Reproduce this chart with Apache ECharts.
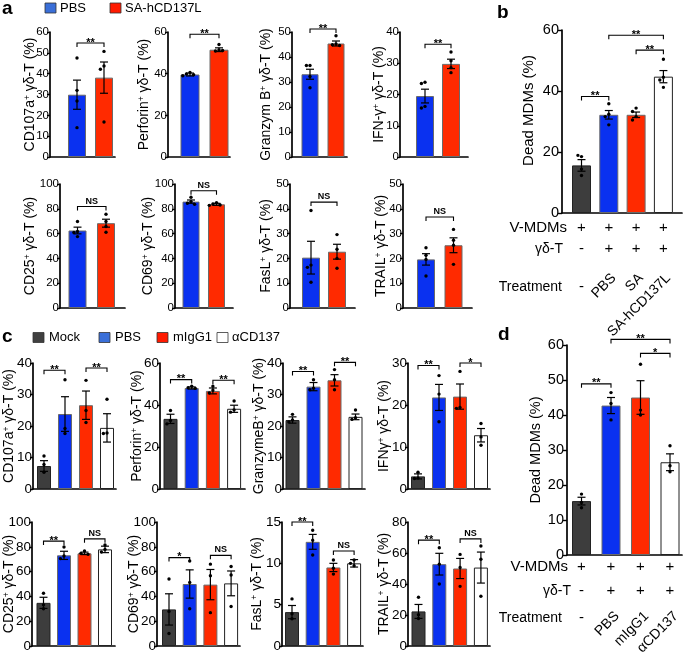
<!DOCTYPE html>
<html><head><meta charset="utf-8">
<script src="https://cdn.jsdelivr.net/npm/echarts@6/dist/echarts.min.js"></script>
<style>html,body{margin:0;padding:0;background:#fff}#c{width:685px;height:653px}</style>
</head><body><div id="c"></div><script>
// ---------- DATA ----------
const groupsA = ['PBS', 'SA-hCD137L'];
const groupsC = ['Mock', 'PBS', 'mIgG1', 'αCD137'];
const bTreatment = ['-', 'PBS', 'SA', 'SA-hCD137L'];
const bMDMs = ['+', '+', '+', '+'];
const bGD = ['-', '+', '+', '+'];
const dTreatment = ['-', 'PBS', 'mIgG1', 'αCD137'];
const dMDMs = ['+', '+', '+', '+'];
const dGD = ['-', '+', '+', '+'];

// panel a (mean, sem, individual points, significance [i, j, y, label])
const aCD107aMean = [29.9, 38.1];
const aCD107aSem = [7.0, 7.5];
const aCD107aPts = [[47.5, 32.0, 26.9, 14.1], [50.7, 43.7, 42.1, 16.8]];
const aCD107aSig = [[0, 1, 54.7, '**']];

const aPerforinMean = [39.6, 51.5];
const aPerforinSem = [0.7, 0.9];
const aPerforinPts = [[40.6, 39.9, 39.5, 39.0], [54.0, 51.4, 50.9, 51.1]];
const aPerforinSig = [[0, 1, 58.9, '**']];

const aGranzymMean = [33.1, 45.4];
const aGranzymSem = [2.0, 1.0];
const aGranzymPts = [[36.6, 36.6, 32.2, 27.7], [48.5, 45.2, 44.9, 44.6]];
const aGranzymSig = [[0, 1, 51.2, '**']];

const aIFNgMean = [19.5, 29.8];
const aIFNgSem = [2.2, 1.5];
const aIFNgPts = [[23.9, 23.5, 16.2, 15.7], [33.6, 30.8, 28.6, 27.0]];
const aIFNgSig = [[0, 1, 36.1, '**']];

const aCD25Mean = [62.5, 68.4];
const aCD25Sem = [2.7, 3.2];
const aCD25Pts = [[69.7, 61.7, 60.9, 57.6], [75.6, 69.7, 65.7, 61.1]];
const aCD25Sig = [[0, 1, 81.8, 'NS']];

const aCD69Mean = [85.8, 83.6];
const aCD69Sem = [1.3, 0.8];
const aCD69Pts = [[89.3, 85.8, 84.5, 83.6], [85.0, 83.9, 83.1, 82.8]];
const aCD69Sig = [[0, 1, 94.6, 'NS']];

const aFasLMean = [20.3, 22.7];
const aFasLSem = [6.6, 3.0];
const aFasLPts = [[39.3, 17.3, 16.4, 10.4], [29.6, 23.7, 20.0, 16.0]];
const aFasLSig = [[0, 1, 42.7, 'NS']];

const aTRAILMean = [19.6, 25.3];
const aTRAILSem = [2.3, 3.0];
const aTRAILPts = [[24.3, 21.3, 19.6, 12.9], [31.7, 27.3, 25.3, 17.6]];
const aTRAILSig = [[0, 1, 36.7, 'NS']];

// panel b
const bMean = [15.6, 32.2, 32.2, 44.7];
const bSem = [1.9, 1.4, 0.9, 2.0];
const bPts = [[18.5, 18.9, 14.4, 12.3], [35.8, 32.4, 31.6, 28.9], [34.4, 33.3, 31.6, 30.5], [50.4, 44.5, 43.6, 41.2]];
const bSig = [[0, 1, 38.2, '**'], [2, 3, 53.4, '**'], [1, 3, 58.3, '**']];

// panel c
const cCD107aMean = [7.3, 23.8, 26.6, 19.4];
const cCD107aSem = [1.7, 5.5, 4.5, 4.5];
const cCD107aPts = [[10.5, 7.8, 5.3], [34.7, 19.2, 17.6], [34.5, 24.9, 21.1], [28.5, 17.8, 17.6]];
const cCD107aSig = [[0, 1, 37.7, '**'], [2, 3, 38.4, '**']];

const cPerforinMean = [33.4, 48.1, 46.7, 38.2];
const cPerforinSem = [2.2, 0.5, 1.4, 1.7];
const cPerforinPts = [[37.4, 32.6, 31.0], [48.9, 48.2, 47.9], [48.9, 47.0, 45.7], [41.9, 37.7, 36.6]];
const cPerforinSig = [[0, 1, 52.1, '**'], [2, 3, 51.8, '**']];

const cGranzymeBMean = [21.9, 32.5, 34.5, 22.9];
const cGranzymeBSem = [1.0, 1.3, 1.8, 0.9];
const cGranzymeBPts = [[23.7, 21.9, 21.3], [34.7, 32.0, 31.5], [37.9, 34.7, 31.5], [25.1, 22.6, 22.1]];
const cGranzymeBSig = [[0, 1, 37.3, '**'], [2, 3, 40.2, '**']];

const cIFNgMean = [3.0, 21.8, 22.0, 12.8];
const cIFNgSem = [0.6, 3.1, 3.0, 1.6];
const cIFNgPts = [[4.0, 2.6, 2.5], [27.0, 22.6, 16.0], [28.0, 19.4, 19.2], [15.6, 12.4, 10.4]];
const cIFNgSig = [[0, 1, 29.4, '**'], [2, 3, 30.0, '*']];

const cCD25Mean = [34.8, 73.1, 74.7, 77.9];
const cCD25Sem = [4.5, 3.3, 1.0, 2.6];
const cCD25Pts = [[42.6, 33.2, 30.0], [79.8, 72.6, 70.5], [76.6, 74.7, 73.9], [81.4, 77.9, 75.8]];
const cCD25Sig = [[0, 1, 84.6, '**'], [2, 3, 86.4, 'NS']];

const cCD69Mean = [29.5, 50.0, 49.5, 50.5];
const cCD69Sem = [12.6, 11.4, 12.2, 10.0];
const cCD69Pts = [[54.0, 27.9, 10.1], [68.6, 51.3, 30.0], [66.0, 56.6, 26.9], [64.1, 57.2, 31.9]];
const cCD69Sig = [[0, 1, 71.3, '*'], [2, 3, 73.1, 'NS']];

const cFasLMean = [4.1, 12.6, 9.5, 10.0];
const cFasLSem = [0.8, 0.9, 0.5, 0.45];
const cFasLPts = [[5.7, 3.9, 3.3], [14.0, 12.8, 11.0], [10.4, 9.4, 8.7], [10.4, 10.0, 9.7]];
const cFasLSig = [[0, 1, 15.0, '**'], [2, 3, 11.5, 'NS']];

const cTRAILMean = [22.3, 52.8, 50.0, 50.6];
const cTRAILSem = [4.5, 7.0, 6.5, 10.0];
const cTRAILPts = [[31.5, 20.2, 17.7], [63.4, 52.8, 40.0], [59.1, 50.6, 38.5], [64.5, 56.0, 32.1]];
const cTRAILSig = [[0, 1, 68.3, '**'], [2, 3, 69.1, 'NS']];

// panel d
const dMean = [15.4, 42.7, 45.0, 26.5];
const dSem = [1.1, 2.3, 4.8, 2.4];
const dPts = [[17.4, 15.0, 13.5], [46.4, 43.3, 38.6], [54.5, 41.4, 40.0], [31.2, 25.5, 23.8]];
const dSig = [[0, 1, 48.9, '**'], [2, 3, 57.6, '*'], [1, 3, 61.6, '**']];

// ---------- STYLE / LAYOUT ----------
const FONT = "'Liberation Sans', Arial, Helvetica, sans-serif";
const BLUE = '#0a31f0', RED = '#ff2a00', DARK = '#3d3d3d', WHITE = '#ffffff';
const colorsA = [BLUE, RED], bordersA = ['#6a6a6a', '#6a6a6a'];
const colorsC = [DARK, BLUE, RED, WHITE], bordersC = ['#222', '#6a6a6a', '#6a6a6a', '#222'];

const option = {
  animation: false,
  backgroundColor: '#fff',
  textStyle: { fontFamily: FONT },
  grid: [], xAxis: [], yAxis: [], series: [], graphic: []
};

function errRender(pts) {
  return function (params, api) {
    const i = api.value(0), m = api.value(1), e = api.value(2);
    const top = api.coord([i, m + e]), bot = api.coord([i, m - e]);
    const x = top[0];
    const ls = { stroke: '#000', lineWidth: 1.2 };
    const ch = [
      { type: 'line', shape: { x1: x, y1: top[1], x2: x, y2: bot[1] }, style: ls },
      { type: 'line', shape: { x1: x - 4, y1: top[1], x2: x + 4, y2: top[1] }, style: ls },
      { type: 'line', shape: { x1: x - 4, y1: bot[1], x2: x + 4, y2: bot[1] }, style: ls }
    ];
    const placed = [];
    pts[params.dataIndex].forEach(function (v) {
      const y = api.coord([i, v])[1];
      const cands = [0, -3.6, 3.6, -7.2, 7.2, -10.8, 10.8];
      let dx = 0;
      for (const c of cands) {
        if (placed.every(p => Math.hypot(p[0] - c, p[1] - y) >= 3.4)) { dx = c; break; }
      }
      placed.push([dx, y]);
      ch.push({ type: 'circle', shape: { cx: x + dx, cy: y, r: 1.7 }, style: { fill: '#000' } });
    });
    return { type: 'group', children: ch };
  };
}

function sigRender(sig) {
  return function (params, api) {
    const s = sig[params.dataIndex];
    const p1 = api.coord([s[0], s[2]]), p2 = api.coord([s[1], s[2]]);
    const y = p1[1];
    const ns = s[3] === 'NS';
    return { type: 'group', children: [
      { type: 'polyline', shape: { points: [[p1[0], y + 4], [p1[0], y], [p2[0], y], [p2[0], y + 4]] },
        style: { stroke: '#000', lineWidth: 1.1, fill: null } },
      { type: 'text', x: (p1[0] + p2[0]) / 2, y: ns ? y - 1 : y + 5,
        style: { text: s[3], align: 'center', verticalAlign: 'bottom', fontFamily: FONT,
                 fontWeight: 'bold', fontSize: ns ? 9 : 11, fill: '#000' } }
    ] };
  };
}

function rowsRender(rows, treat, g) {
  return function (params, api) {
    const i = params.dataIndex;
    const p = api.coord([i, 0]);
    const x = p[0], y0 = p[1];
    const ch = [];
    rows.forEach(function (r, j) {
      ch.push({ type: 'text', x: x, y: y0 + g.rows[j],
        style: { text: r[i], align: 'center', verticalAlign: 'middle', fontFamily: FONT, fontSize: 15, fill: '#000' } });
    });
    if (treat[i] === '-') {
      ch.push({ type: 'text', x: x, y: y0 + g.dash,
        style: { text: '-', align: 'center', verticalAlign: 'middle', fontFamily: FONT, fontSize: 15, fill: '#000' } });
    } else {
      ch.push({ type: 'text', x: x + g.rx, y: y0 + g.ry, rotation: Math.PI / 4,
        style: { text: treat[i], align: 'right', verticalAlign: 'middle', fontFamily: FONT, fontSize: 14, fill: '#000' } });
    }
    return { type: 'group', children: ch };
  };
}

function addChart(c) {
  const k = option.grid.length, L = c.L;
  option.grid.push({ left: L.ax, top: L.top, width: L.end - L.ax, height: L.bot - L.top });
  option.xAxis.push({ gridIndex: k, type: 'value', min: (L.ax - L.c0) / L.step, max: (L.end - L.c0) / L.step,
    axisLine: { show: true, onZero: false, lineStyle: { color: '#000', width: 1.7 } },
    axisTick: { show: false }, axisLabel: { show: false }, splitLine: { show: false } });
  option.yAxis.push({ gridIndex: k, type: 'value', min: 0, max: c.max, interval: c.interval,
    axisLine: { show: true, onZero: false, lineStyle: { color: '#000', width: 1.7 } },
    axisTick: { show: true, length: c.tl, lineStyle: { color: '#000', width: 1.4 } },
    axisLabel: { fontSize: c.fs, color: '#000', margin: c.lm, fontFamily: FONT },
    splitLine: { show: false },
    name: c.name, nameLocation: 'middle', nameGap: c.ng, nameMoveOverlap: false,
    nameTextStyle: { fontSize: c.tfs, color: '#000', fontFamily: FONT, padding: c.tpad || 0,
      rich: { s: { fontSize: 8.5, verticalAlign: 'top', color: '#000', fontFamily: FONT } } } });
  option.series.push({ type: 'bar', xAxisIndex: k, yAxisIndex: k, barWidth: L.bw, silent: true,
    data: c.mean.map((v, i) => ({ value: [i, v], itemStyle: { color: c.colors[i], borderColor: c.borders[i], borderWidth: 1 } })) });
  option.series.push({ type: 'custom', xAxisIndex: k, yAxisIndex: k, clip: false, z: 5, silent: true,
    data: c.mean.map((v, i) => [i, v, c.sem[i]]), renderItem: errRender(c.pts) });
  option.series.push({ type: 'custom', xAxisIndex: k, yAxisIndex: k, clip: false, z: 5, silent: true,
    data: c.sig.map(s => [s[0], s[2]]), renderItem: sigRender(c.sig) });
  if (c.rows) {
    option.series.push({ type: 'custom', xAxisIndex: k, yAxisIndex: k, clip: false, z: 5, silent: true,
      data: c.rows.treat.map((t, i) => [i, 0]), renderItem: rowsRender(c.rows.lines, c.rows.treat, c.rows.g) });
  }
}

const A = { colors: colorsA, borders: bordersA, fs: 11.5, tfs: 14, tl: 3, lm: 1 };
const C = { colors: colorsC, borders: bordersC, fs: 13.5, tfs: 14, tl: 3, lm: 1 };

addChart(Object.assign({}, A, { name: 'CD107a{s|+} γδ-T (%)', max: 60, interval: 10, ng: 13,
  mean: aCD107aMean, sem: aCD107aSem, pts: aCD107aPts, sig: aCD107aSig,
  L: { ax: 50, end: 115, top: 32, bot: 157, c0: 77, step: 27, bw: 18 } }));
addChart(Object.assign({}, A, { name: 'Perforin{s|+} γδ-T (%)', max: 60, interval: 20, ng: 17,
  mean: aPerforinMean, sem: aPerforinSem, pts: aPerforinPts, sig: aPerforinSig,
  L: { ax: 168, end: 230, top: 32, bot: 157, c0: 190, step: 29, bw: 19 } }));
addChart(Object.assign({}, A, { name: 'Granzym B{s|+} γδ-T (%)', max: 50, interval: 10, ng: 18.5,
  mean: aGranzymMean, sem: aGranzymSem, pts: aGranzymPts, sig: aGranzymSig,
  L: { ax: 292, end: 347, top: 32, bot: 157, c0: 310, step: 26, bw: 17 } }));
addChart(Object.assign({}, A, { name: 'IFN-γ{s|+} γδ-T (%)', max: 40, interval: 10, ng: 13.5,
  mean: aIFNgMean, sem: aIFNgSem, pts: aIFNgPts, sig: aIFNgSig,
  L: { ax: 400, end: 468, top: 32, bot: 157, c0: 425, step: 26, bw: 18 } }));
addChart(Object.assign({}, A, { name: 'CD25{s|+} γδ-T (%)', max: 100, interval: 20, ng: 22.5,
  mean: aCD25Mean, sem: aCD25Sem, pts: aCD25Pts, sig: aCD25Sig,
  L: { ax: 60, end: 125, top: 184, bot: 308, c0: 77.5, step: 28.5, bw: 18 } }));
addChart(Object.assign({}, A, { name: 'CD69{s|+} γδ-T (%)', max: 100, interval: 20, ng: 20,
  mean: aCD69Mean, sem: aCD69Sem, pts: aCD69Pts, sig: aCD69Sig,
  L: { ax: 175, end: 233, top: 184, bot: 308, c0: 191, step: 25.5, bw: 17 } }));
addChart(Object.assign({}, A, { name: 'FasL{s|+} γδ-T (%)', max: 50, interval: 10, ng: 17,
  mean: aFasLMean, sem: aFasLSem, pts: aFasLPts, sig: aFasLSig,
  L: { ax: 290, end: 355, top: 184, bot: 308, c0: 311, step: 26, bw: 18 } }));
addChart(Object.assign({}, A, { name: 'TRAIL{s|+} γδ-T (%)', max: 50, interval: 10, ng: 14.5,
  mean: aTRAILMean, sem: aTRAILSem, pts: aTRAILPts, sig: aTRAILSig,
  L: { ax: 403, end: 472, top: 184, bot: 308, c0: 426, step: 27.5, bw: 18 } }));

addChart(Object.assign({}, C, { name: 'CD107a{s|+} γδ-T (%)', max: 40, interval: 10, ng: 17,
  mean: cCD107aMean, sem: cCD107aSem, pts: cCD107aPts, sig: cCD107aSig,
  L: { ax: 33, end: 116, top: 363, bot: 489, c0: 44, step: 21, bw: 14 } }));
addChart(Object.assign({}, C, { name: 'Perforin{s|+} γδ-T (%)', max: 60, interval: 20, ng: 16,
  mean: cPerforinMean, sem: cPerforinSem, pts: cPerforinPts, sig: cPerforinSig,
  L: { ax: 160, end: 245, top: 363, bot: 489, c0: 170.5, step: 21.2, bw: 14 } }));
addChart(Object.assign({}, C, { name: 'GranzymeB{s|+} γδ-T (%)', max: 40, interval: 10, ng: 17,
  mean: cGranzymeBMean, sem: cGranzymeBSem, pts: cGranzymeBPts, sig: cGranzymeBSig,
  L: { ax: 283, end: 365, top: 363, bot: 489, c0: 292.5, step: 21, bw: 14 } }));
addChart(Object.assign({}, C, { name: 'IFNγ{s|+} γδ-T (%)', max: 30, interval: 10, ng: 17,
  mean: cIFNgMean, sem: cIFNgSem, pts: cIFNgPts, sig: cIFNgSig,
  L: { ax: 408, end: 490, top: 363, bot: 489, c0: 418, step: 21, bw: 14 } }));
addChart(Object.assign({}, C, { name: 'CD25{s|+} γδ-T (%)', max: 100, interval: 20, ng: 16,
  mean: cCD25Mean, sem: cCD25Sem, pts: cCD25Pts, sig: cCD25Sig,
  L: { ax: 32, end: 115, top: 522, bot: 648, c0: 43.5, step: 20.5, bw: 14 } }));
addChart(Object.assign({}, C, { name: 'CD69{s|+} γδ-T (%)', max: 100, interval: 20, ng: 16,
  mean: cCD69Mean, sem: cCD69Sem, pts: cCD69Pts, sig: cCD69Sig,
  L: { ax: 157, end: 240, top: 522, bot: 648, c0: 169, step: 20.7, bw: 14 } }));
addChart(Object.assign({}, C, { name: 'FasL{s|+} γδ-T (%)', max: 15, interval: 5, ng: 18,
  mean: cFasLMean, sem: cFasLSem, pts: cFasLPts, sig: cFasLSig,
  L: { ax: 282, end: 363, top: 522, bot: 648, c0: 292, step: 20.7, bw: 14 } }));
addChart(Object.assign({}, C, { name: 'TRAIL{s|+} γδ-T (%)', max: 80, interval: 20, ng: 17,
  mean: cTRAILMean, sem: cTRAILSem, pts: cTRAILPts, sig: cTRAILSig,
  L: { ax: 408, end: 490, top: 522, bot: 648, c0: 418.5, step: 20.8, bw: 14 } }));

addChart(Object.assign({}, C, { name: 'Dead MDMs (%)', max: 60, interval: 20, ng: 26, fs: 14.5, tfs: 15, tl: 4, lm: 3,
  tpad: [0, 0, 0, 22],
  mean: bMean, sem: bSem, pts: bPts, sig: bSig,
  rows: { lines: [bMDMs, bGD], treat: bTreatment, g: { rows: [15, 36], dash: 74, rx: 5, ry: 63 } },
  L: { ax: 562, end: 682, top: 30, bot: 213, c0: 581.5, step: 27.3, bw: 19 } }));
addChart(Object.assign({}, C, { name: 'Dead MDMs (%)', max: 60, interval: 10, ng: 23.5, fs: 14.5, tfs: 14.5, tl: 4, lm: 3,
  mean: dMean, sem: dSem, pts: dPts, sig: dSig,
  rows: { lines: [dMDMs, dGD], treat: dTreatment, g: { rows: [12, 36], dash: 63, rx: 6, ry: 59 } },
  L: { ax: 567, end: 682, top: 345, bot: 555, c0: 581.5, step: 29.5, bw: 19 } }));

// ---------- legends, panel letters, row headers ----------
function txt(t, x, y, size, opts) {
  return Object.assign({ type: 'text', x: x, y: y,
    style: Object.assign({ text: t, fontFamily: FONT, fontSize: size, fill: '#000', verticalAlign: 'middle', align: 'left' }, opts || {}) });
}
const G = option.graphic;
G.push(txt('a', 2, 9, 19, { fontWeight: 'bold' }));
G.push(txt('b', 497, 13, 19, { fontWeight: 'bold' }));
G.push(txt('c', 2, 337, 19, { fontWeight: 'bold' }));
G.push(txt('d', 498, 335, 19, { fontWeight: 'bold' }));

const legA = [[groupsA[0], '#3a6fd8', 45, 60], [groupsA[1], '#ff1a00', 110, 125]];
legA.forEach(function (l) {
  G.push({ type: 'rect', shape: { x: l[2], y: 3, width: 11, height: 10 }, style: { fill: l[1], stroke: '#333', lineWidth: 0.8 } });
  G.push(txt(l[0], l[3], 8.5, 13));
});
const legC = [[groupsC[0], '#404040', 33, 49], [groupsC[1], '#3a6fd8', 99, 115], [groupsC[2], '#ff1a00', 157, 173], [groupsC[3], '#ffffff', 217, 232]];
legC.forEach(function (l) {
  G.push({ type: 'rect', shape: { x: l[2], y: 332.5, width: 11, height: 10 }, style: { fill: l[1], stroke: '#333', lineWidth: 0.8 } });
  G.push(txt(l[0], l[3], 337.5, 13));
});

G.push(txt('V-MDMs', 567, 228, 15, { align: 'right' }));
G.push(txt('γδ-T', 563, 249, 14, { align: 'right' }));
G.push(txt('Treatment', 562, 287, 14, { align: 'right' }));
G.push(txt('V-MDMs', 568, 567, 15, { align: 'right' }));
G.push(txt('γδ-T', 571, 591, 14, { align: 'right' }));
G.push(txt('Treatment', 562, 618, 14, { align: 'right' }));

const chart = echarts.init(document.getElementById('c'), null, { renderer: 'canvas' });
chart.setOption(option);
</script></body></html>
